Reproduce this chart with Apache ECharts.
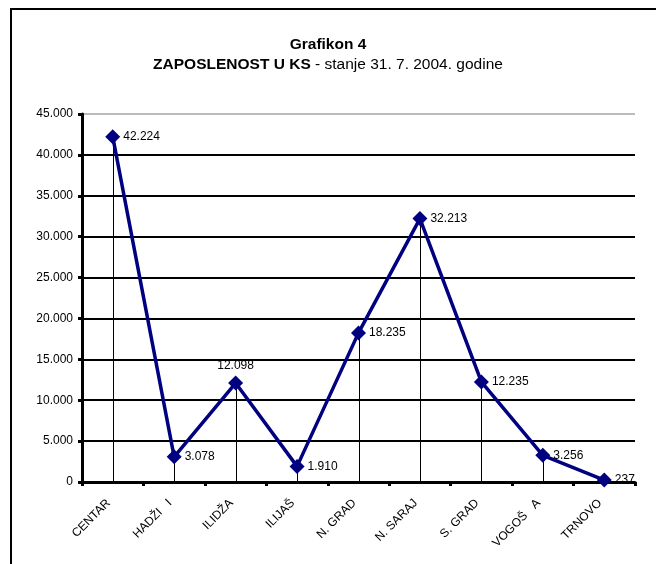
<!DOCTYPE html>
<html>
<head>
<meta charset="utf-8">
<script src="https://cdn.jsdelivr.net/npm/echarts@6/dist/echarts.min.js"></script>
<style>
  html, body { margin: 0; padding: 0; background: #fff; }
  #chart { width: 656px; height: 564px; }
</style>
</head>
<body>
<div id="chart"></div>
<script>
let categories = ["CENTAR", "HADŽI   I", "ILIDŽA", "ILIJAŠ", "N. GRAD", "N. SARAJ", "S. GRAD", "VOGOŠ   A", "TRNOVO"];
let values = [42224, 3078, 12098, 1910, 18235, 32213, 12235, 3256, 237];
let labelPos = ["right", "right", "top", "right", "right", "right", "right", "right", "right"];

function fmt(v) {
  return String(v).replace(/\B(?=(\d{3})+(?!\d))/g, ".");
}

let myChart = echarts.init(document.getElementById("chart"), null, { renderer: "canvas" });

let option = {
  backgroundColor: "#fff",
  animation: false,
  textStyle: { fontFamily: "Liberation Sans, Arial, sans-serif" },
  title: {
    left: "center",
    top: 31,
    text: "Grafikon 4",
    textStyle: { fontSize: 15.5, fontWeight: "bold", color: "#000", lineHeight: 18 },
    subtext: "{b|ZAPOSLENOST U KS} - stanje 31. 7. 2004. godine",
    itemGap: 2,
    subtextStyle: {
      fontSize: 15.5,
      color: "#000",
      lineHeight: 18,
      rich: { b: { fontSize: 15.5, fontWeight: "bold", color: "#000", lineHeight: 18 } }
    }
  },
  graphic: [{
    type: "rect",
    shape: { x: 11, y: 9, width: 700, height: 600 },
    style: { fill: "none", stroke: "#000", lineWidth: 2 }
  }],
  grid: { left: 82, right: 21, top: 114, bottom: 82 },
  xAxis: {
    type: "category",
    data: categories,
    axisLine: { lineStyle: { color: "#000", width: 3 } },
    axisTick: { show: true, length: 4, lineStyle: { color: "#000", width: 3 } },
    axisLabel: { rotate: 45, fontSize: 12, color: "#000", margin: 15, padding: [0, 6, 0, 0] },
    splitLine: { show: false }
  },
  yAxis: {
    type: "value",
    min: 0,
    max: 45000,
    interval: 5000,
    axisLine: { show: true, lineStyle: { color: "#000", width: 3 } },
    axisTick: { show: true, length: 4, lineStyle: { color: "#000", width: 3 } },
    axisLabel: { fontSize: 12, color: "#000", margin: 9, formatter: fmt },
    splitLine: {
      lineStyle: {
        width: 2,
        color: ["#000", "#000", "#000", "#000", "#000", "#000", "#000", "#000", "#000", "#bbb"]
      }
    }
  },
  series: [
    {
      // thin vertical drop lines from each point to the axis
      name: "drop",
      type: "custom",
      data: values.map((v, i) => [i, v]),
      silent: true,
      z: 1,
      renderItem: function (params, api) {
        let top = api.coord([api.value(0), api.value(1)]);
        let bottom = api.coord([api.value(0), 0]);
        let x = Math.round(top[0]) + 0.5;
        return {
          type: "line",
          shape: { x1: x, y1: top[1], x2: x, y2: bottom[1] },
          style: { stroke: "#000", lineWidth: 1 }
        };
      }
    },
    {
      name: "Zaposleni",
      type: "line",
      data: values.map((v, i) => ({
        value: v,
        label: { position: labelPos[i], distance: labelPos[i] === "top" ? 4 : 3 }
      })),
      symbol: "diamond",
      symbolSize: 15,
      lineStyle: { color: "#000080", width: 3.5 },
      itemStyle: { color: "#000080" },
      label: {
        show: true,
        fontSize: 12,
        color: "#000",
        formatter: p => fmt(p.value)
      },
      z: 3
    }
  ]
};

myChart.setOption(option);
window.addEventListener("resize", myChart.resize);
</script>
</body>
</html>
